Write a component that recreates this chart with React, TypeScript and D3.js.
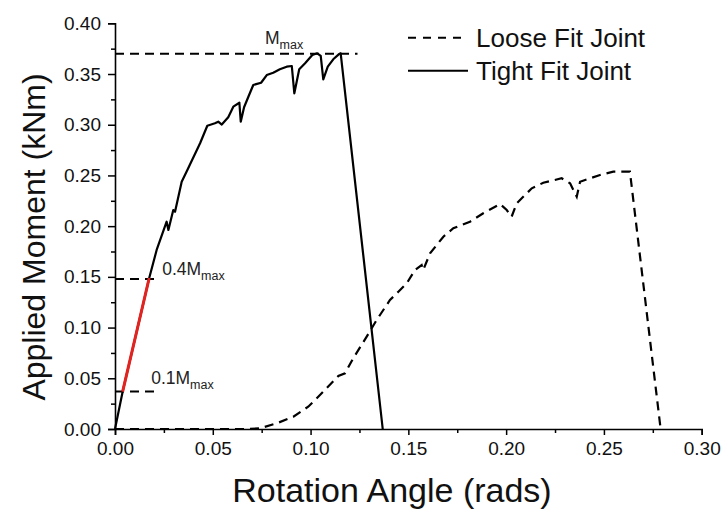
import React, { useEffect, useRef } from "react";
import * as d3 from "d3";

// Tight fit joint: [rotation (rads), moment (kNm)]
const tightX = [0, 0.0039, 0.0175, 0.0213, 0.0264, 0.0273, 0.0298, 0.0307, 0.0341, 0.037, 0.0435, 0.0472, 0.0511, 0.0528, 0.0546, 0.0579, 0.0605, 0.0636, 0.0643, 0.066, 0.0682, 0.0707, 0.0747, 0.0776, 0.0809, 0.0843, 0.0878, 0.0904, 0.0917, 0.0942, 0.0972, 0.1009, 0.1034, 0.1052, 0.1065, 0.1088, 0.1116, 0.1144, 0.1154, 0.1369];
const tightY = [0, 0.0368, 0.1489, 0.1765, 0.2044, 0.1962, 0.2159, 0.2142, 0.2438, 0.2554, 0.2817, 0.299, 0.3014, 0.303, 0.3002, 0.3073, 0.3178, 0.3217, 0.303, 0.3172, 0.3276, 0.3392, 0.3414, 0.349, 0.3513, 0.3547, 0.3572, 0.3579, 0.331, 0.3547, 0.3606, 0.3687, 0.3704, 0.3678, 0.3448, 0.3572, 0.3645, 0.3694, 0.3704, 0];

// Loose fit joint
const looseX = [0, 0.0435, 0.0665, 0.0741, 0.0827, 0.0912, 0.0988, 0.1048, 0.1142, 0.1176, 0.1218, 0.1287, 0.1338, 0.1406, 0.1449, 0.1492, 0.1534, 0.1568, 0.1576, 0.1611, 0.1679, 0.173, 0.1815, 0.1883, 0.1969, 0.2003, 0.2028, 0.2054, 0.2131, 0.219, 0.2284, 0.2327, 0.2361, 0.2378, 0.248, 0.2548, 0.2633, 0.279];
const looseY = [0, 0, 0, 0.0007, 0.0056, 0.0121, 0.022, 0.0335, 0.0523, 0.0549, 0.0697, 0.091, 0.1075, 0.1272, 0.1354, 0.1437, 0.1568, 0.1617, 0.1568, 0.1732, 0.1896, 0.1979, 0.2044, 0.2127, 0.2218, 0.2159, 0.2093, 0.2225, 0.2373, 0.2428, 0.2472, 0.2422, 0.229, 0.2438, 0.2504, 0.2537, 0.2537, 0];

// Red linear segment (0.1Mmax to 0.4Mmax)
const redX = [0.0039, 0.0175];
const redY = [0.0368, 0.1489];

const mMax = 0.37;
const mMaxLineEnd = 0.124;
const fracLineEnd = 0.0226;

const xTicks = [0, 0.05, 0.1, 0.15, 0.2, 0.25, 0.3];
const yTicks = [0, 0.05, 0.1, 0.15, 0.2, 0.25, 0.3, 0.35, 0.4];
const xMinor = [0.025, 0.075, 0.125, 0.175, 0.225, 0.275];
const yMinor = [0.025, 0.075, 0.125, 0.175, 0.225, 0.275, 0.325, 0.375];

const legendLabels = ["Loose Fit Joint", "Tight Fit Joint"];

const W = 726;
const H = 515;
const FONT = "'Liberation Sans', Arial, sans-serif";

export default function App() {
  const ref = useRef<SVGSVGElement | null>(null);

  useEffect(() => {
    const svg = d3.select(ref.current);
    svg.selectAll("*").remove();
    const x = d3.scaleLinear().domain([0, 0.3]).range([115, 701.7]);
    const y = d3.scaleLinear().domain([0, 0.4]).range([429, 23.3]);
    const fmt = d3.format(".2f");

    // axes
    const gx = svg.append("g").attr("transform", `translate(0,${y(0)})`);
    gx.call(d3.axisBottom(x).tickValues(xTicks).tickSize(6).tickPadding(7).tickFormat((d: any) => fmt(d)));
    const gxm = svg.append("g").attr("transform", `translate(0,${y(0)})`);
    gxm.call(d3.axisBottom(x).tickValues(xMinor).tickSize(4).tickFormat(() => ""));
    const gy = svg.append("g").attr("transform", `translate(${x(0)},0)`);
    gy.call(d3.axisLeft(y).tickValues(yTicks).tickSize(7).tickPadding(7).tickFormat((d: any) => fmt(d)));
    const gym = svg.append("g").attr("transform", `translate(${x(0)},0)`);
    gym.call(d3.axisLeft(y).tickValues(yMinor).tickSize(4).tickFormat(() => ""));
    svg.selectAll(".domain").attr("stroke", "#000").attr("stroke-width", 1.6);
    svg.selectAll(".tick line").attr("stroke", "#000").attr("stroke-width", 1.5);
    svg.selectAll(".tick text")
      .attr("font-family", FONT)
      .attr("font-size", 19)
      .attr("fill", "#111");
    gxm.select(".domain").remove();
    gym.select(".domain").remove();

    const mk = (xs: number[], ys: number[]) =>
      d3.line<number>().x((d) => x(d)).y((_, i) => y(ys[i]))(xs) as string;

    // annotation dashed lines
    const dash = "9,6";
    svg.append("line").attr("x1", x(0)).attr("x2", x(mMaxLineEnd)).attr("y1", y(mMax)).attr("y2", y(mMax))
      .attr("stroke", "#000").attr("stroke-width", 2).attr("stroke-dasharray", dash);
    [0.4, 0.1].forEach((f) => {
      svg.append("line").attr("x1", x(0)).attr("x2", x(fracLineEnd)).attr("y1", y(f * mMax)).attr("y2", y(f * mMax))
        .attr("stroke", "#000").attr("stroke-width", 2).attr("stroke-dasharray", dash);
    });

    // curves
    svg.append("path").attr("d", mk(looseX, looseY)).attr("fill", "none").attr("stroke", "#000")
      .attr("stroke-width", 2.2).attr("stroke-dasharray", "9,6");
    svg.append("path").attr("d", mk(tightX, tightY)).attr("fill", "none").attr("stroke", "#000")
      .attr("stroke-width", 2.2).attr("stroke-linejoin", "round");
    svg.append("path").attr("d", mk(redX, redY)).attr("fill", "none").attr("stroke", "#e3231f")
      .attr("stroke-width", 3);

    // annotation labels
    const addM = (px: number, py: number, pre: string) => {
      const t = svg.append("text").attr("x", px).attr("y", py).attr("font-family", FONT)
        .attr("font-size", 17.5).attr("fill", "#222");
      t.append("tspan").text(pre + "M");
      t.append("tspan").attr("font-size", 12.5).attr("dy", 5).text("max");
    };
    addM(265, 43.5, "");
    addM(x(fracLineEnd) + 3, y(0.4 * mMax) - 3.5, "0.4");
    addM(x(fracLineEnd) - 8, y(0.1 * mMax) - 7.5, "0.1");

    // legend
    const lg = svg.append("g");
    const styles = ["8,7", null];
    legendLabels.forEach((lab, i) => {
      const ly = 37.7 + i * 33;
      const l = lg.append("line").attr("x1", 408).attr("x2", 468).attr("y1", ly).attr("y2", ly)
        .attr("stroke", "#000").attr("stroke-width", 2);
      if (styles[i]) l.attr("stroke-dasharray", styles[i] as string);
      lg.append("text").attr("x", 476).attr("y", ly + 9).attr("font-family", FONT).attr("font-size", 26)
        .attr("fill", "#111").text(lab);
    });

    // axis titles
    svg.append("text").attr("x", 392).attr("y", 502).attr("text-anchor", "middle").attr("font-family", FONT)
      .attr("font-size", 34).attr("fill", "#111").text("Rotation Angle (rads)");
    svg.append("text").attr("transform", "translate(45,237) rotate(-90)").attr("text-anchor", "middle")
      .attr("font-family", FONT).attr("font-size", 32).attr("fill", "#111").text("Applied Moment (kNm)");
  }, []);

  return (
    <svg ref={ref} width={W} height={H} style={{ position: "absolute", left: 0, top: 0, background: "#fff" }} />
  );
}
